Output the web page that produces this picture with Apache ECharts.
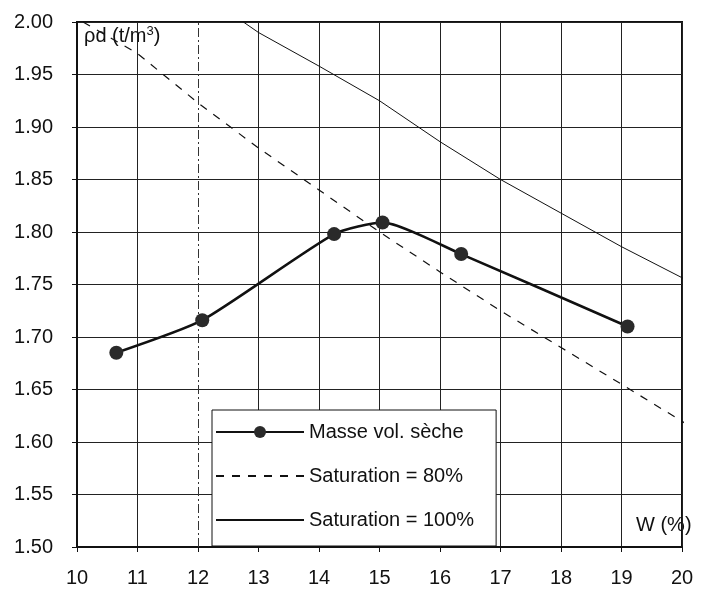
<!DOCTYPE html>
<html><head><meta charset="utf-8">
<script src="https://cdn.jsdelivr.net/npm/echarts@6/dist/echarts.min.js"></script>
<style>html,body{margin:0;padding:0;background:#fff}#c{width:701px;height:590px}</style>
</head><body><div id="c"></div>
<script>
const massW = [10.65, 12.07, 14.25, 15.05, 16.35, 19.1];
const massRho = [1.685, 1.716, 1.798, 1.809, 1.779, 1.710];
const sat80W = [10.1, 11, 12, 13, 14, 15, 16, 17, 18, 19, 20.05];
const sat80Rho = [2.00, 1.97, 1.923, 1.88, 1.84, 1.80, 1.762, 1.725, 1.69, 1.655, 1.618];
const sat100W = [12.75, 13, 14, 15, 16, 17, 18, 19, 20.05];
const sat100Rho = [2.00, 1.99, 1.958, 1.925, 1.886, 1.85, 1.818, 1.786, 1.755];
const xTicks = [10, 11, 12, 13, 14, 15, 16, 17, 18, 19, 20];
const yTicks = [1.50, 1.55, 1.60, 1.65, 1.70, 1.75, 1.80, 1.85, 1.90, 1.95, 2.00];
const seriesNames = ['Masse vol. sèche', 'Saturation = 80%', 'Saturation = 100%'];

const zip = (a, b) => a.map((v, i) => [v, b[i]]);
const font = 'Liberation Sans, Arial, sans-serif';
const xGridColors = xTicks.map(t => t === 12 ? 'rgba(0,0,0,0)' : '#222');
const chart = echarts.init(document.getElementById('c'));
chart.setOption({
  animation: false,
  backgroundColor: '#fff',
  grid: { left: 77, right: 19, top: 22, bottom: 43, show: true, borderColor: '#111', borderWidth: 2 },
  xAxis: {
    type: 'value', min: xTicks[0], max: xTicks[xTicks.length - 1], interval: 1,
    axisLine: { show: true, lineStyle: { color: '#111', width: 2 } },
    axisTick: { show: true, length: 5, lineStyle: { color: '#111' } },
    axisLabel: { color: '#111', fontSize: 20, fontFamily: font, margin: 21 },
    splitLine: { show: true, lineStyle: { color: xGridColors, width: 1 } }
  },
  yAxis: {
    type: 'value', min: yTicks[0], max: yTicks[yTicks.length - 1], interval: 0.05,
    axisLine: { show: true, lineStyle: { color: '#111', width: 2 } },
    axisTick: { show: true, length: 5, lineStyle: { color: '#111' } },
    axisLabel: { color: '#111', fontSize: 20, fontFamily: font, margin: 24, formatter: v => v.toFixed(2) },
    splitLine: { show: true, lineStyle: { color: '#222', width: 1 } }
  },
  legend: {
    orient: 'vertical', left: 212, top: 410,
    backgroundColor: '#fff', borderColor: '#111', borderWidth: 1,
    padding: [12, 22, 16, 3], itemGap: 24, itemWidth: 88, itemHeight: 15,
    textStyle: { color: '#111', fontSize: 20, fontFamily: font },
    data: [
      { name: seriesNames[0] },
      { name: seriesNames[1], itemStyle: { opacity: 0 } },
      { name: seriesNames[2], itemStyle: { opacity: 0 } }
    ]
  },
  graphic: [
    { type: 'text', left: 84, top: 25, style: {
      text: 'ρd (t/m{s|3})', fontSize: 20, fontFamily: font, fill: '#111',
      rich: { s: { fontSize: 13, fontFamily: font, fill: '#111', verticalAlign: 'top', padding: [0, 0, 10, 0] } } } },
    { type: 'text', left: 636, top: 515, style: { text: 'W (%)', fontSize: 20, fontFamily: font, fill: '#111' } }
  ],
  series: [
    {
      name: seriesNames[0], type: 'line', data: zip(massW, massRho), smooth: 0.2,
      symbol: 'circle', symbolSize: 14,
      lineStyle: { color: '#111', width: 2.5 }, itemStyle: { color: '#2a2a2a' }, z: 5,
      markLine: {
        silent: true, symbol: 'none', label: { show: false },
        lineStyle: { color: '#333', type: [9, 3, 2, 3], width: 1 },
        data: [{ xAxis: 12 }]
      }
    },
    {
      name: seriesNames[1], type: 'line', data: zip(sat80W, sat80Rho), smooth: false,
      symbol: 'none', itemStyle: { color: '#111' }, lineStyle: { color: '#111', width: 1.2, type: [8, 8] }
    },
    {
      name: seriesNames[2], type: 'line', data: zip(sat100W, sat100Rho), smooth: false,
      symbol: 'none', itemStyle: { color: '#111' }, lineStyle: { color: '#111', width: 1 }
    }
  ]
});
</script></body></html>
